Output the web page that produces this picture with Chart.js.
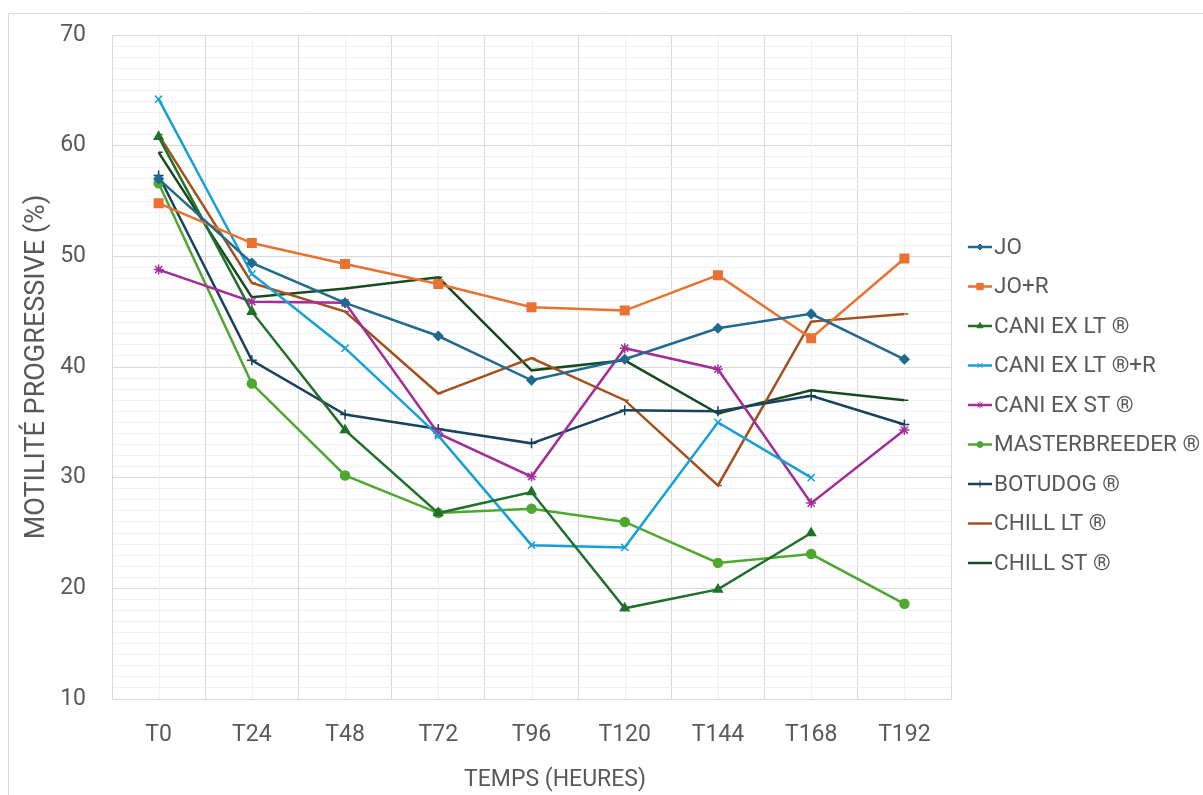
<!DOCTYPE html>
<html>
<head>
<meta charset="utf-8">
<script src="https://cdn.jsdelivr.net/npm/chart.js"></script>
<style>
  html, body { margin: 0; padding: 0; background: #fff; }
  #wrap { width: 1203px; height: 795px; position: relative; }
</style>
</head>
<body>
<div id="wrap"><canvas id="motility"></canvas></div>
<script>
// Categories and series values (progressive motility, %)
const categories = ['T0', 'T24', 'T48', 'T72', 'T96', 'T120', 'T144', 'T168', 'T192'];
const jo            = [57.0, 49.4, 45.8, 42.8, 38.8, 40.7, 43.5, 44.8, 40.7];
const joR           = [54.8, 51.2, 49.3, 47.5, 45.4, 45.1, 48.3, 42.6, 49.8];
const caniExLt      = [60.8, 45.0, 34.3, 26.8, 28.7, 18.2, 19.9, 25.0, null];
const caniExLtR     = [64.2, 48.4, 41.7, 33.8, 23.9, 23.7, 35.0, 30.0, null];
const caniExSt      = [48.8, 45.9, 45.8, 34.0, 30.1, 41.7, 39.8, 27.7, 34.3];
const masterbreeder = [56.6, 38.5, 30.2, 26.8, 27.2, 26.0, 22.3, 23.1, 18.6];
const botudog       = [57.3, 40.6, 35.7, 34.4, 33.1, 36.1, 36.0, 37.4, 34.8];
const chillLt       = [61.0, 47.6, 45.0, 37.6, 40.8, 37.0, 29.3, 44.1, 44.8];
const chillSt       = [59.4, 46.3, 47.1, 48.1, 39.7, 40.6, 35.8, 37.9, 37.0];
const yTicks = [10, 20, 30, 40, 50, 60, 70];

const textColor = '#595959';
const majorGrid = '#d9d9d9';
const minorGrid = '#f0f0f0';
const fontFamily = 'Roboto, "Open Sans", sans-serif';

function series(label, data, color, pointStyle, radius) {
  return {
    label: label,
    data: data,
    borderColor: color,
    backgroundColor: color,
    borderWidth: 2.5,
    pointStyle: pointStyle,
    pointRadius: radius,
    pointBorderWidth: 1.5,
    pointHoverRadius: radius,
    tension: 0,
  };
}

// Excel-like border around the whole chart object
const frame = {
  id: 'frame',
  beforeDraw(chart) {
    const ctx = chart.ctx;
    ctx.save();
    ctx.strokeStyle = majorGrid;
    ctx.lineWidth = 1;
    ctx.beginPath();
    ctx.moveTo(8.5, chart.height);
    ctx.lineTo(8.5, 13.5);
    ctx.lineTo(chart.width, 13.5);
    ctx.stroke();
    ctx.restore();
  }
};

// Minor vertical gridlines at the category centres
const minorX = {
  id: 'minorX',
  beforeDatasetsDraw(chart) {
    const ctx = chart.ctx;
    const area = chart.chartArea;
    const x = chart.scales.x;
    ctx.save();
    ctx.strokeStyle = minorGrid;
    ctx.lineWidth = 1;
    for (let i = 0; i < categories.length; i++) {
      const px = Math.round(x.getPixelForTick(i)) + 0.5;
      ctx.beginPath();
      ctx.moveTo(px, area.top);
      ctx.lineTo(px, area.bottom);
      ctx.stroke();
    }
    ctx.restore();
  }
};

// X axis title, placed a little right of centre as in the original
const xTitle = {
  id: 'xTitle',
  afterDraw(chart) {
    const ctx = chart.ctx;
    ctx.save();
    ctx.font = '23px ' + fontFamily;
    ctx.fillStyle = textColor;
    ctx.textAlign = 'center';
    ctx.textBaseline = 'middle';
    ctx.fillText('TEMPS (HEURES)', 555, 780);
    ctx.restore();
  }
};

// Legend on the right: line sample with marker, like Excel
const sideLegend = {
  id: 'sideLegend',
  afterDraw(chart) {
    const ctx = chart.ctx;
    const x0 = 968, x1 = 992, top = 247, step = 39.5;
    ctx.save();
    ctx.font = '22.5px ' + fontFamily;
    ctx.textBaseline = 'middle';
    ctx.textAlign = 'left';
    chart.data.datasets.forEach((ds, i) => {
      const y = top + i * step;
      ctx.strokeStyle = ds.borderColor;
      ctx.fillStyle = ds.backgroundColor;
      ctx.lineWidth = 2.5;
      ctx.beginPath();
      ctx.moveTo(x0, y);
      ctx.lineTo(x1, y);
      ctx.stroke();
      if (ds.pointStyle !== 'dash') {
        ctx.lineWidth = 1;
        Chart.helpers.drawPoint(ctx, {
          pointStyle: ds.pointStyle,
          radius: Math.max(3, ds.pointRadius - 1.5),
          rotation: 0,
          borderWidth: 1,
        }, (x0 + x1) / 2, y);
      }
      ctx.fillStyle = textColor;
      ctx.fillText(ds.label, x1 + 2, y + 1);
    });
    ctx.restore();
  }
};

const chartConfig = {
  type: 'line',
  data: {
    labels: categories,
    datasets: [
      series('JO', jo, '#1f6a8f', 'rectRot', 4.5),
      series('JO+R', joR, '#e97132', 'rect', 6),
      series('CANI EX LT ®', caniExLt, '#1f7029', 'triangle', 5),
      series('CANI EX LT ®+R', caniExLtR, '#16a0d8', 'crossRot', 5),
      series('CANI EX ST ®', caniExSt, '#a22f98', 'star', 5),
      series('MASTERBREEDER ®', masterbreeder, '#4ea72e', 'circle', 4.5),
      series('BOTUDOG ®', botudog, '#17435d', 'cross', 5),
      series('CHILL LT ®', chillLt, '#a4501d', 'dash', 4),
      series('CHILL ST ®', chillSt, '#174b1f', 'dash', 4),
    ]
  },
  options: {
    responsive: false,
    animation: false,
    layout: {
      padding: { left: 0, top: 35, right: 252, bottom: 0 },
    },
    plugins: {
      legend: { display: false },
      tooltip: { enabled: false },
    },
    scales: {
      x: {
        offset: true,
        grid: {
          offset: true,
          color: majorGrid,
          drawTicks: false,
        },
        border: { color: majorGrid },
        ticks: {
          color: textColor,
          padding: 22,
          font: { family: fontFamily, size: 23 },
        },
        afterFit(scale) {
          scale.height = 96;
        },
      },
      y: {
        min: 10,
        max: 70,
        grid: {
          drawTicks: false,
          color(ctx) {
            return yTicks.includes(ctx.tick.value) ? majorGrid : minorGrid;
          },
        },
        border: { color: majorGrid },
        ticks: {
          stepSize: 1,
          autoSkip: false,
          maxTicksLimit: 100,
          color: textColor,
          padding: 26,
          font: { family: fontFamily, size: 23 },
          callback(value) {
            return yTicks.includes(value) ? value : '';
          },
        },
        title: {
          display: true,
          text: 'MOTILITÉ PROGRESSIVE (%)',
          color: textColor,
          font: { family: fontFamily, size: 27 },
          padding: { top: 21, bottom: 0 },
        },
        afterFit(scale) {
          scale.width = 112;
          // the top label may overhang; the layout padding already leaves room
          scale.paddingTop = 0;
          scale.paddingBottom = 0;
        },
      },
    },
  },
  plugins: [frame, minorX, xTitle, sideLegend],
};

const canvas = document.getElementById('motility');
canvas.width = 1203;
canvas.height = 795;
const chart = new Chart(canvas, chartConfig);
</script>
</body>
</html>
